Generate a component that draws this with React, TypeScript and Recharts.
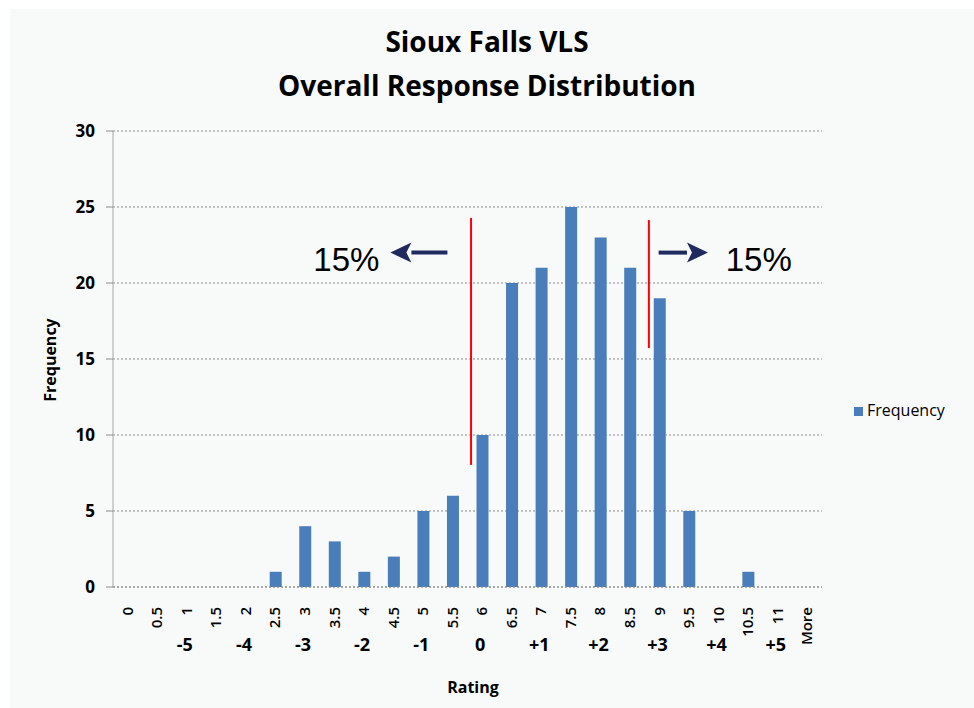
import { BarChart, Bar, XAxis, YAxis, CartesianGrid, Legend, ReferenceLine, ReferenceDot } from 'recharts';

// Histogram bins (Excel "Rating" bins) and counts
const categories = ['0', '0.5', '1', '1.5', '2', '2.5', '3', '3.5', '4', '4.5', '5', '5.5', '6', '6.5', '7', '7.5', '8', '8.5', '9', '9.5', '10', '10.5', '11', 'More'];
const frequencies = [0, 0, 0, 0, 0, 1, 4, 3, 1, 2, 5, 6, 10, 20, 21, 25, 23, 21, 19, 5, 0, 1, 0, 0];
// second row of labels: rating scale under the whole-number bins
const ratingLabels = ['', '', '-5', '', '-4', '', '-3', '', '-2', '', '-1', '', '0', '', '+1', '', '+2', '', '+3', '', '+4', '', '+5', ''];
const yTicks = [0, 5, 10, 15, 20, 25, 30];
// bin boundaries for the small tick marks on the x axis
const binEdges = [-0.5, 0.5, 1.5, 2.5, 3.5, 4.5, 5.5, 6.5, 7.5, 8.5, 9.5, 10.5, 11.5, 12.5, 13.5, 14.5, 15.5, 16.5, 17.5, 18.5, 19.5, 20.5, 21.5, 22.5, 23.5];

// annotations, in bin-index units on x and frequency on y
const cutLines = [
  { x: 11.62, top: 24.28, bottom: 8.03 },
  { x: 17.64, top: 24.14, bottom: 15.72 },
];
const arrows = [
  { from: 10.82, to: 8.89, y: 22 },
  { from: 17.97, to: 19.64, y: 22 },
];
const percentNotes = [
  { x: 7.4, y: 21.55, text: '15%' },
  { x: 21.36, y: 21.55, text: '15%' },
];

const data = categories.map((c, i) => ({ bin: c, frequency: frequencies[i] }));

const FONT = '"Open Sans", "DejaVu Sans", sans-serif';

function BinTick(props: any) {
  const { x, y, payload, index } = props;
  const rating = ratingLabels[index];
  return (
    <g>
      <text
        x={x + 5}
        y={y + 20}
        transform={`rotate(-90 ${x + 5} ${y + 20})`}
        textAnchor="end"
        fontSize={15}
        fontWeight={600}
        fontFamily={FONT}
        fill="#000"
      >
        {payload.value}
      </text>
      {rating && (
        <text x={x - 2} y={y + 64} textAnchor="middle" fontSize={18} fontWeight="bold" fontFamily={FONT} fill="#000">
          {rating}
        </text>
      )}
    </g>
  );
}

function ArrowShape(props: any) {
  const { x1, y1, x2, y2 } = props;
  const dir = x2 > x1 ? 1 : -1;
  const head = 21;
  const bx = x2 - dir * head;
  return (
    <g>
      <line x1={x1} y1={y1} x2={bx} y2={y2} stroke="#1f2b5e" strokeWidth={4} />
      <polygon points={`${x2},${y2} ${bx},${y2 - 10} ${bx + dir * 5},${y2} ${bx},${y2 + 10}`} fill="#1f2b5e" />
    </g>
  );
}

export default function App() {
  return (
    <div style={{ position: 'absolute', left: 0, top: 0, width: 974, height: 708, background: '#ffffff', fontFamily: FONT }}>
      <div style={{ position: 'absolute', left: 10, top: 9, right: 0, bottom: 0, background: '#f8faf9' }} />

      <div style={{ position: 'absolute', left: 0, width: 974, top: 19, textAlign: 'center', fontSize: 28, fontWeight: 'bold', lineHeight: '44px', color: '#000' }}>
        Sioux Falls VLS
        <br />
        Overall Response Distribution
      </div>

      <div style={{ position: 'absolute', left: 50, top: 360, transform: 'translate(-50%, -50%) rotate(-90deg)', fontSize: 16, fontWeight: 'bold', whiteSpace: 'nowrap' }}>
        Frequency
      </div>
      <div style={{ position: 'absolute', left: 473, top: 687, transform: 'translate(-50%, -50%)', fontSize: 16, fontWeight: 'bold' }}>
        Rating
      </div>

      <div style={{ position: 'absolute', left: 0, top: 0 }}>
        <BarChart width={974} height={708} data={data} margin={{ top: 131, right: 32, left: 53, bottom: 61 }}>
          <CartesianGrid vertical={false} stroke="#8c8c8c" strokeDasharray="2 2" />
          <XAxis
            xAxisId="num"
            type="number"
            dataKey="idx"
            domain={[-0.5, 23.5]}
            allowDataOverflow
            ticks={binEdges}
            height={0}
            tick={() => <g />}
            tickSize={5}
            axisLine={false}
            tickLine={{ stroke: '#8c8c8c' }}
          />
          <XAxis
            dataKey="bin"
            interval={0}
            height={60}
            tickLine={false}
            tickSize={0}
            tickMargin={0}
            axisLine={{ stroke: '#8c8c8c', strokeDasharray: '2 2' }}
            tick={<BinTick />}
          />
          <YAxis
            domain={[0, 30]}
            ticks={yTicks}
            width={60}
            tickSize={7}
            tickMargin={11}
            axisLine={{ stroke: '#a6a6a6' }}
            tickLine={{ stroke: '#8c8c8c' }}
            tick={{ fontSize: 17, fontWeight: 'bold', fill: '#000', fontFamily: FONT }}
          />
          <Legend
            layout="vertical"
            align="right"
            verticalAlign="middle"
            iconType="square"
            iconSize={9}
            wrapperStyle={{ left: 854, top: 399, width: 120 }}
            formatter={(value: string) => <span style={{ color: '#000', fontSize: 16, fontFamily: FONT }}>{value}</span>}
          />
          <Bar dataKey="frequency" name="Frequency" fill="#4a7ebb" barSize={12} isAnimationActive={false} />

          {cutLines.map((l, i) => (
            <ReferenceLine
              key={`cut-${i}`}
              xAxisId="num"
              segment={[{ x: l.x, y: l.top }, { x: l.x, y: l.bottom }]}
              stroke="#ff0000"
              strokeWidth={2}
            />
          ))}
          {arrows.map((a, i) => (
            <ReferenceLine
              key={`arrow-${i}`}
              xAxisId="num"
              segment={[{ x: a.from, y: a.y }, { x: a.to, y: a.y }]}
              shape={<ArrowShape />}
            />
          ))}
          {percentNotes.map((n, i) => (
            <ReferenceDot
              key={`note-${i}`}
              xAxisId="num"
              x={n.x}
              y={n.y}
              r={1}
              shape={(p: any) => (
                <text x={p.cx} y={p.cy} dy={12} textAnchor="middle" fontSize={33} fontFamily='"Liberation Sans", Arial, sans-serif' fill="#000">
                  {n.text}
                </text>
              )}
            />
          ))}
        </BarChart>
      </div>
    </div>
  );
}
